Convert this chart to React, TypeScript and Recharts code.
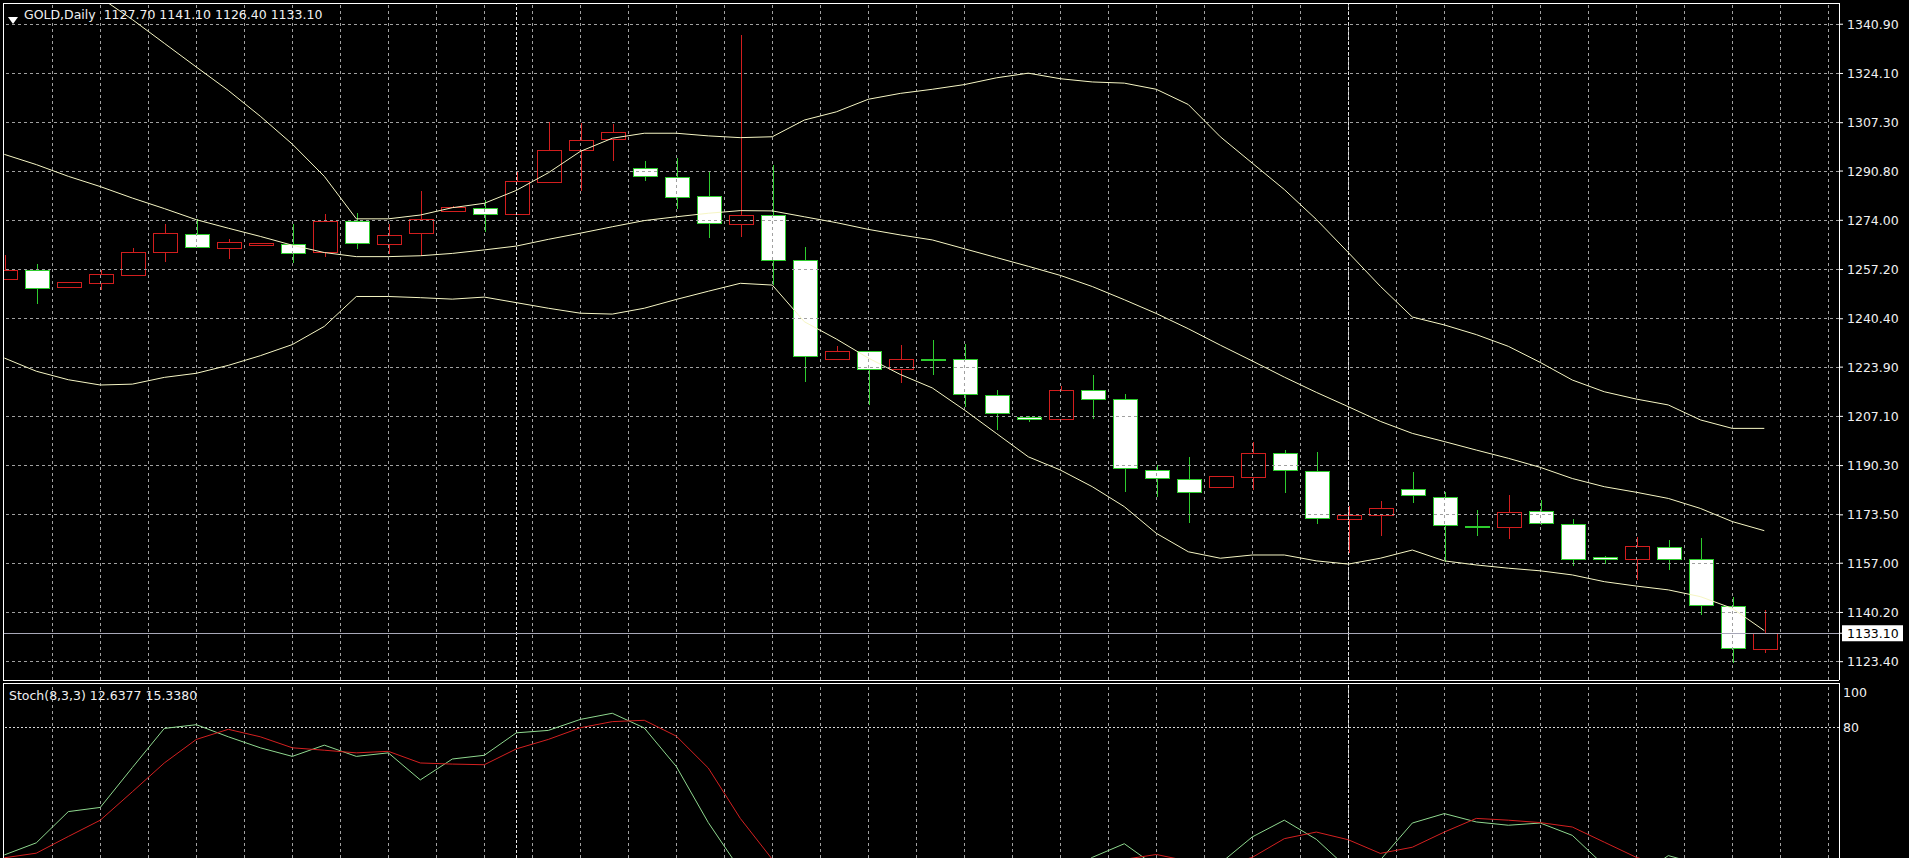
import React from 'react';
import { ComposedChart, Bar, Line, XAxis, YAxis, ReferenceLine } from 'recharts';

// GOLD daily candles, oldest first
const opens = [
  1253.8, 1257.0, 1251.4, 1252.6, 1255.5, 1263.3, 1269.3, 1264.7, 1265.5, 1265.9,
  1263.1, 1273.9, 1265.9, 1269.5, 1277.2, 1278.3, 1276.0, 1287.1, 1298.1, 1301.8,
  1291.8, 1288.8, 1282.3, 1272.9, 1275.9, 1260.6, 1226.6, 1229.3, 1223.4, 1226.7,
  1226.8, 1214.5, 1207.0, 1206.1, 1216.0, 1212.9, 1188.9, 1185.8, 1183.1, 1186.3,
  1194.5, 1188.6, 1172.2, 1173.3, 1182.2, 1179.7, 1169.8, 1169.3, 1174.9, 1170.3,
  1159.2, 1158.3, 1162.6, 1158.5, 1142.5, 1127.7,
];
const highs = [
  1262.0, 1259.2, 1252.9, 1257.0, 1264.4, 1272.9, 1274.6, 1267.5, 1266.4, 1272.6,
  1276.3, 1276.5, 1272.6, 1284.0, 1279.0, 1280.8, 1290.5, 1307.5, 1307.2, 1306.7,
  1294.2, 1295.4, 1290.5, 1337.3, 1293.0, 1264.9, 1231.0, 1229.5, 1231.4, 1233.2,
  1231.8, 1216.1, 1207.1, 1217.5, 1221.2, 1214.9, 1190.5, 1193.3, 1186.8, 1198.5,
  1195.5, 1195.0, 1176.5, 1178.2, 1188.2, 1181.4, 1175.1, 1180.3, 1178.6, 1172.0,
  1159.4, 1166.0, 1164.9, 1165.7, 1145.6, 1141.1,
];
const lows = [
  1253.5, 1245.6, 1251.3, 1250.1, 1255.3, 1259.8, 1264.7, 1260.7, 1265.3, 1259.4,
  1261.5, 1264.1, 1262.6, 1261.7, 1277.0, 1270.0, 1275.8, 1286.7, 1284.0, 1294.2,
  1287.4, 1278.0, 1267.8, 1268.3, 1252.0, 1218.9, 1226.5, 1210.9, 1218.5, 1221.3,
  1210.4, 1202.5, 1205.3, 1206.0, 1206.1, 1181.4, 1179.7, 1170.8, 1182.9, 1182.0,
  1180.9, 1170.4, 1160.4, 1166.3, 1177.5, 1157.5, 1166.4, 1165.3, 1170.0, 1156.1,
  1156.6, 1151.3, 1154.7, 1139.2, 1122.8, 1126.4,
];
const closes = [
  1257.0, 1251.0, 1252.8, 1255.6, 1263.3, 1269.7, 1264.9, 1266.6, 1266.2, 1263.0,
  1273.9, 1266.1, 1269.0, 1274.6, 1278.7, 1276.0, 1287.5, 1298.1, 1301.5, 1304.1,
  1289.0, 1282.0, 1273.2, 1275.9, 1260.6, 1227.6, 1229.4, 1223.4, 1226.8, 1226.6,
  1214.6, 1208.1, 1206.2, 1216.1, 1213.0, 1189.4, 1186.0, 1181.2, 1186.7, 1194.5,
  1188.8, 1172.3, 1173.4, 1175.7, 1180.3, 1170.0, 1169.6, 1174.6, 1170.6, 1158.3,
  1158.3, 1162.7, 1158.4, 1142.8, 1128.1, 1133.1,
];

// Bollinger bands
const upperBand = [
  1370, 1363, 1356, 1350, 1342.5, 1334.4, 1326.3, 1318.3, 1309.5, 1300,
  1289, 1274.5, 1274.5, 1275.8, 1278.3, 1279.8, 1284.2, 1290.2, 1297.5, 1302,
  1303.7, 1303.7, 1302.8, 1302.2, 1302.5, 1308.2, 1311, 1315.3, 1317.3, 1318.7,
  1320.3, 1322.6, 1324.2, 1322.3, 1321.2, 1320.8, 1318.7, 1313.5, 1302.5, 1293.5,
  1284.5, 1274.3, 1263, 1251.5, 1241, 1238.3, 1235, 1231, 1225.5, 1219.5,
  1215.5, 1213, 1211, 1205.9, 1203, 1203,
];
const middleBand = [
  1296.5, 1293, 1289, 1285.5, 1281.6, 1278, 1274.2, 1271.3, 1268.5, 1265.5,
  1263, 1261.6, 1261.6, 1261.9, 1262.7, 1263.9, 1265.2, 1267.5, 1269.6, 1271.8,
  1273.9, 1275.2, 1276.4, 1277.3, 1277.2, 1275.2, 1273.2, 1270.9, 1269, 1267.3,
  1264.3, 1261.3, 1258.3, 1255.2, 1251.4, 1246.9, 1242.2, 1237, 1231.4, 1226,
  1220.5, 1215.3, 1210.4, 1205.4, 1201.3, 1198.5, 1195.6, 1192.8, 1189.7, 1185.9,
  1183.1, 1181.2, 1179.1, 1175.7, 1171.2, 1168.1,
];
const lowerBand = [
  1227, 1222.5, 1219.6, 1217.8, 1218.1, 1220.4, 1221.8, 1224.5, 1227.8, 1231.6,
  1237.8, 1248, 1248, 1247.6, 1247.1, 1247.8, 1245.9, 1244, 1242.3, 1242,
  1244, 1247, 1249.8, 1252.5, 1251.9, 1239.4, 1233.5, 1227, 1221.4, 1216.8,
  1209.3, 1201.3, 1193.3, 1188.8, 1183.1, 1176.3, 1167.2, 1160.9, 1158.7, 1159.8,
  1159.8, 1157.8, 1156.7, 1158.7, 1161.5, 1157.8, 1156.4, 1155.3, 1154.4, 1153,
  1150.7, 1149.2, 1147.9, 1145.6, 1141.6, 1134,
];

// Stoch(8,3,3)
const stochK = [
  22.3, 27.8, 42, 43.9, 62, 79.8, 81.5, 76, 71, 67.1,
  72.2, 67.1, 68.7, 56.4, 65.9, 67.6, 77.8, 78.9, 83.9, 86.7,
  80, 62.5, 37, 15.5, 8, 4, 6, 5, 10, 12,
  6, 5, 4, 12, 21.2, 27.4, 17, 12, 18.5, 30.5,
  38.1, 29.4, 16, 20, 36.8, 41.1, 37.3, 35.8, 36.8, 31.2,
  17.5, 12, 22, 18, 8, 12.64,
];
const stochD = [
  21, 23.1, 30.7, 38.1, 51, 64.1, 74.8, 79.4, 76, 71,
  69.9, 68.7, 69.4, 64.1, 63.6, 63.3, 70.5, 74.8, 80.1, 82.9,
  83.5, 76.3, 61.8, 38.9, 20.3, 9, 6, 5, 7, 9,
  9.5, 7.5, 5, 7, 12.5, 20.3, 22.5, 19.5, 17, 21.2,
  29.7, 32.7, 29.2, 23, 25.8, 32.7, 38.9, 38.1, 37, 35,
  28.1, 21.2, 17, 17.5, 16, 15.34,
];

const priceTicks = [
  1340.9, 1324.1, 1307.3, 1290.8, 1274.0, 1257.2, 1240.4,
  1223.9, 1207.1, 1190.3, 1173.5, 1157.0, 1140.2, 1123.4,
];
const lastPrice = 1133.1;
const stochTicks = [80, 100];
const stochLevel = 80;
// bars that open a new month
const separatorBars = [17, 43];

const rows = opens.map((open, i) => ({
  bar: i + 1,
  open,
  high: highs[i],
  low: lows[i],
  close: closes[i],
  upper: upperBand[i],
  middle: middleBand[i],
  lower: lowerBand[i],
  k: stochK[i],
  d: stochD[i],
}));

const X_DOMAIN: [number, number] = [0.9594, 58.334];
const P_DOMAIN: [number, number] = [1117.15, 1348.14];
const S_DOMAIN: [number, number] = [20.91, 100.45];
const gridBars = Array.from({ length: 38 }, (_, k) => 2.5 + 1.5 * k);

const BULL = '#d21e1e';
const BEAR = '#2ecc2e';
const BAND = '#f6f6c4';
const GRID = '#a0a0a0';
const FONT = "'DejaVu Sans', Verdana, sans-serif";

const Candle = (props: any) => {
  const { x, y, width, height, payload } = props;
  if (x == null || !payload || !height) return null;
  const { open, close, high, low } = payload;
  const cx = Math.round(x + width / 2) + 0.5;
  const ppu = height / (high - low);
  const yOf = (p: number) => Math.round(y + (high - p) * ppu) + 0.5;
  const bull = close > open;
  const color = bull ? BULL : BEAR;
  const top = yOf(Math.max(open, close));
  const bot = yOf(Math.min(open, close));
  return (
    <g shapeRendering="crispEdges">
      <line x1={cx} x2={cx} y1={Math.round(y)} y2={Math.round(y + height)} stroke={color} />
      <rect x={cx - 12} y={top} width={24} height={Math.max(bot - top, 1)}
        fill={bull ? '#000' : '#fff'} stroke={color} />
    </g>
  );
};

const PriceTick = (props: any) => {
  const { x, y, payload } = props;
  const v = payload.value as number;
  const label = v.toFixed(2);
  if (v === lastPrice) {
    return (
      <g>
        <rect x={x - 5} y={y - 8} width={61} height={16} fill="#fff" />
        <text x={x} y={y} dy="0.36em" fill="#000" fontSize={12.5} fontFamily={FONT}>{label}</text>
      </g>
    );
  }
  return (
    <text x={x} y={y} dy="0.36em" fill="#f0f0f0" fontSize={12.5} fontFamily={FONT}>{label}</text>
  );
};

const StochTick = (props: any) => {
  const { x, y, payload } = props;
  const v = payload.value as number;
  return (
    <text x={x} y={v === 100 ? y + 9 : y} dy="0.36em" fill="#f0f0f0" fontSize={12.5} fontFamily={FONT}>
      {v}
    </text>
  );
};

const gridLine = { stroke: GRID, strokeDasharray: '3 3', shapeRendering: 'crispEdges' } as any;
const sepLine = { stroke: '#e8e8e8', strokeDasharray: '3 2', shapeRendering: 'crispEdges' } as any;
const frame = { stroke: '#ffffff', shapeRendering: 'crispEdges' } as any;

export default function App() {
  return (
    <div style={{ position: 'fixed', left: 0, top: 0, width: 1909, height: 858, background: '#000', overflow: 'hidden' }}>
      <div style={{ position: 'absolute', left: 0, top: 0 }}>
        <ComposedChart width={1909} height={681} data={rows} margin={{ top: 3, right: 0, bottom: 1, left: 3 }}>
          <XAxis type="number" dataKey="bar" domain={X_DOMAIN} allowDataOverflow hide />
          <YAxis
            orientation="right"
            width={70}
            domain={P_DOMAIN}
            allowDataOverflow
            ticks={[...priceTicks, lastPrice]}
            interval={0}
            tick={<PriceTick />}
            tickSize={4}
            tickMargin={4}
            tickLine={{ stroke: '#ffffff' }}
            axisLine={false}
          />
          {priceTicks.map((p) => <ReferenceLine key={'h' + p} y={p} {...gridLine} />)}
          {gridBars.map((b) => <ReferenceLine key={'v' + b} x={b} {...gridLine} />)}
          {separatorBars.map((b) => <ReferenceLine key={'s' + b} x={b} {...sepLine} />)}
          <ReferenceLine y={lastPrice} stroke="#a8a8b8" shapeRendering="crispEdges" />
          <Bar dataKey={(d: any) => [d.low, d.high]} barSize={25} shape={<Candle />} isAnimationActive={false} />
          <Line type="linear" dataKey="upper" stroke={BAND} strokeWidth={1} dot={false} isAnimationActive={false} />
          <Line type="linear" dataKey="middle" stroke={BAND} strokeWidth={1} dot={false} isAnimationActive={false} />
          <Line type="linear" dataKey="lower" stroke={BAND} strokeWidth={1} dot={false} isAnimationActive={false} />
          <ReferenceLine y={P_DOMAIN[1]} {...frame} />
          <ReferenceLine y={P_DOMAIN[0]} {...frame} />
          <ReferenceLine x={X_DOMAIN[0]} {...frame} />
          <ReferenceLine x={X_DOMAIN[1]} {...frame} />
        </ComposedChart>
      </div>
      <div style={{ position: 'absolute', left: 0, top: 682 }}>
        <ComposedChart width={1909} height={176} data={rows} margin={{ top: 1, right: 0, bottom: 0, left: 3 }}>
          <XAxis type="number" dataKey="bar" domain={X_DOMAIN} allowDataOverflow hide />
          <YAxis
            orientation="right"
            width={70}
            domain={S_DOMAIN}
            allowDataOverflow
            ticks={stochTicks}
            interval={0}
            tick={<StochTick />}
            tickSize={0}
            tickMargin={4}
            tickLine={false}
            axisLine={false}
          />
          {gridBars.map((b) => <ReferenceLine key={'v' + b} x={b} {...gridLine} />)}
          {separatorBars.map((b) => <ReferenceLine key={'s' + b} x={b} {...sepLine} />)}
          <ReferenceLine y={stochLevel} stroke="#d8d8d8" strokeDasharray="2 2" shapeRendering="crispEdges" />
          <Line type="linear" dataKey="k" stroke="#8fd88f" strokeWidth={1} dot={false} isAnimationActive={false} />
          <Line type="linear" dataKey="d" stroke="#d42020" strokeWidth={1} dot={false} isAnimationActive={false} />
          <ReferenceLine y={S_DOMAIN[1]} {...frame} />
          <ReferenceLine x={X_DOMAIN[0]} {...frame} />
          <ReferenceLine x={X_DOMAIN[1]} {...frame} />
        </ComposedChart>
      </div>
      <div style={{ position: 'absolute', left: 8, top: 10, width: 10, height: 7 }}>
        <svg width={10} height={7}><polygon points="0,0 10,0 5,7" fill="#ffffff" /></svg>
      </div>
      <div style={{ position: 'absolute', left: 24, top: 7, fontFamily: FONT, fontSize: 12.5, lineHeight: '15px', color: '#f0f0f0', whiteSpace: 'pre' }}>
        {'GOLD,Daily  1127.70 1141.10 1126.40 1133.10'}
      </div>
      <div style={{ position: 'absolute', left: 9, top: 688, fontFamily: FONT, fontSize: 12.5, lineHeight: '15px', color: '#f0f0f0', whiteSpace: 'pre' }}>
        {'Stoch(8,3,3) 12.6377 15.3380'}
      </div>
    </div>
  );
}
